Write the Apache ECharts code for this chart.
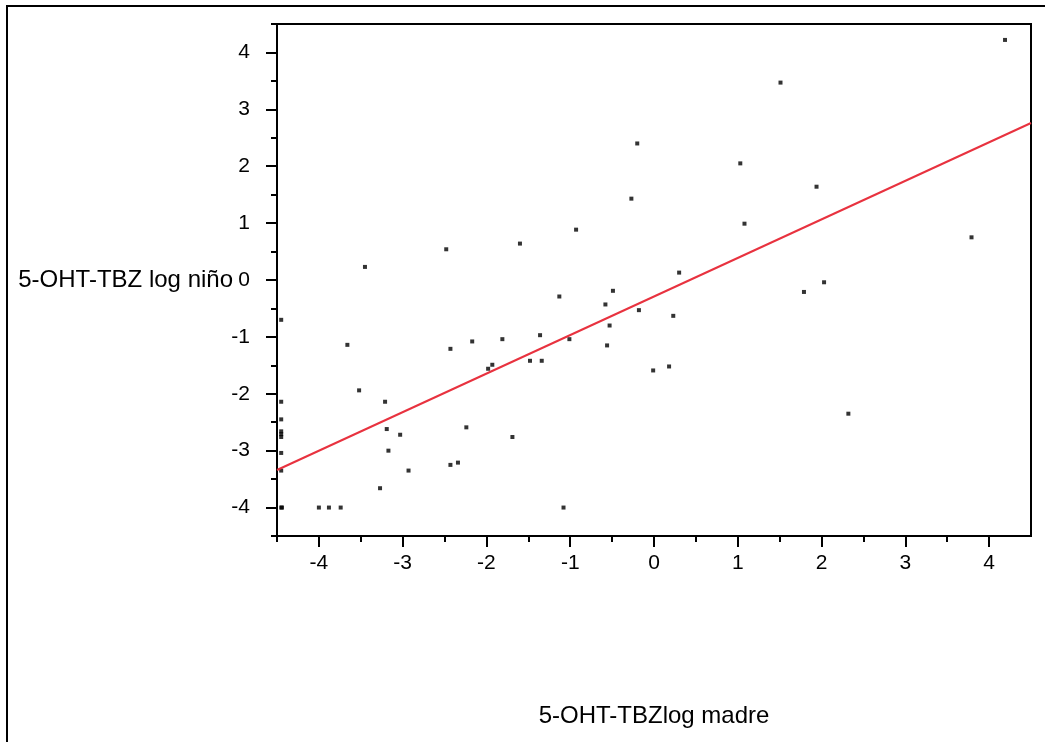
<!DOCTYPE html>
<html>
	<head>
		<meta charset="utf-8">
		<title>5-OHT-TBZ log</title>
		<script src="https://cdn.jsdelivr.net/npm/echarts@6/dist/echarts.min.js" type="text/javascript"></script>
		<style type="text/css">
			html, body {
				margin: 0;
				padding: 0;
				background: #fff;
			}

			#scatter {
				width: 1045px;
				height: 742px;
			}
		</style>
	</head>
	<body>
		<div id="scatter"></div>
		<script type="text/javascript">
			// 数据：madre (x) / niño (y)
			var madreVals = [4.19, 1.51, -0.20, 1.03, 1.94, -0.27, 1.08, -0.93, -1.60, -2.48,
				-3.45, 3.79, 0.30, 2.03, 1.79, -0.49, -1.13, -0.58, -0.18, -0.53,
				0.23, -4.45, -3.66, -2.43, -2.17, -1.81, -1.36, -1.01, -0.56, -1.93,
				-1.98, -1.48, -1.34, -0.01, 0.18, -3.52, -4.45, -3.21, 2.32, -4.45,
				-3.19, -2.24, -4.45, -4.45, -4.45, -3.03, -1.69, -3.17, -4.45, -2.93,
				-4.45, -2.43, -2.34, -3.27, -4.45, -4.44, -4.00, -3.88, -3.74, -1.08
			];
			var ninoVals = [4.22, 3.47, 2.40, 2.05, 1.64, 1.43, 0.99, 0.885, 0.64, 0.54,
				0.23, 0.75, 0.13, -0.04, -0.21, -0.19, -0.29, -0.43, -0.53, -0.80,
				-0.63, -0.70, -1.14, -1.21, -1.08, -1.04, -0.97, -1.04, -1.15, -1.49,
				-1.56, -1.42, -1.42, -1.59, -1.52, -1.94, -2.14, -2.14, -2.35, -2.45,
				-2.62, -2.59, -2.66, -2.71, -2.76, -2.72, -2.76, -3.00, -3.04, -3.35,
				-3.35, -3.25, -3.21, -3.66, -4.00, -4.00, -4.00, -4.00, -4.00, -4.00
			];
			// 拟合直线两端
			var fitX = [-4.5, 4.5];
			var fitY = [-3.34, 2.76];
			// 刻度
			var majorTicks = [-4, -3, -2, -1, 0, 1, 2, 3, 4];
			var minorTicks = [-4.5, -3.5, -2.5, -1.5, -0.5, 0.5, 1.5, 2.5, 3.5, 4.5];

			var points = madreVals.map(function(v, i) {
				return [v, ninoVals[i]];
			});
			var fitLine = fitX.map(function(v, i) {
				return [v, fitY[i]];
			});

			var font = 'Liberation Sans, Arial, sans-serif';
			var fs = 21;
			var chart = echarts.init(document.getElementById('scatter'));
			var option = {
				animation: false,
				backgroundColor: '#fff',
				textStyle: {
					fontFamily: font
				},
				// 外框
				graphic: [{
					type: 'rect',
					shape: { x: 7, y: 6, width: 1100, height: 800 },
					style: { fill: 'none', stroke: '#000', lineWidth: 2 },
					silent: true
				}],
				grid: {
					left: 277,
					top: 24,
					width: 754,
					height: 512,
					show: true,
					borderColor: '#000',
					borderWidth: 2,
					backgroundColor: 'transparent'
				},
				xAxis: [{
					type: 'value',
					min: -4.5,
					max: 4.5,
					name: '5-OHT-TBZlog madre',
					nameLocation: 'middle',
					nameGap: 168,
					nameMoveOverlap: false,
					nameTextStyle: { color: '#000', fontSize: 24, fontFamily: font },
					axisLine: { show: true, onZero: false, lineStyle: { color: '#000', width: 2 } },
					axisTick: { show: true, customValues: majorTicks, length: 11, lineStyle: { color: '#000', width: 2 } },
					axisLabel: { show: true, customValues: majorTicks, margin: 17, color: '#000', fontSize: fs, fontFamily: font },
					splitLine: { show: false }
				}, {
					// 次刻度
					type: 'value',
					min: -4.5,
					max: 4.5,
					position: 'bottom',
					axisLine: { show: false, onZero: false },
					axisTick: { show: true, customValues: minorTicks.slice(0, 9), length: 6, lineStyle: { color: '#000', width: 2 } },
					axisLabel: { show: false },
					splitLine: { show: false }
				}],
				yAxis: [{
					type: 'value',
					min: -4.5,
					max: 4.5,
					name: '5-OHT-TBZ log niño',
					nameLocation: 'middle',
					nameRotate: 0,
					nameGap: 44,
					nameMoveOverlap: false,
					nameTextStyle: { color: '#000', fontSize: 24, fontFamily: font, align: 'right' },
					axisLine: { show: true, onZero: false, lineStyle: { color: '#000', width: 2 } },
					axisTick: { show: true, customValues: majorTicks, length: 11, lineStyle: { color: '#000', width: 2 } },
					axisLabel: { show: true, customValues: majorTicks, margin: 27, color: '#000', fontSize: fs, fontFamily: font },
					splitLine: { show: false }
				}, {
					type: 'value',
					min: -4.5,
					max: 4.5,
					position: 'left',
					axisLine: { show: false, onZero: false },
					axisTick: { show: true, customValues: minorTicks, length: 6, lineStyle: { color: '#000', width: 2 } },
					axisLabel: { show: false },
					splitLine: { show: false }
				}],
				series: [{
					name: 'datos',
					type: 'scatter',
					symbol: 'rect',
					symbolSize: 4,
					itemStyle: { color: '#000' },
					data: points
				}, {
					name: 'ajuste',
					type: 'line',
					symbol: 'none',
					lineStyle: { color: '#e8323f', width: 2 },
					data: fitLine
				}]
			};
			chart.setOption(option);
		</script>
	</body>
</html>
